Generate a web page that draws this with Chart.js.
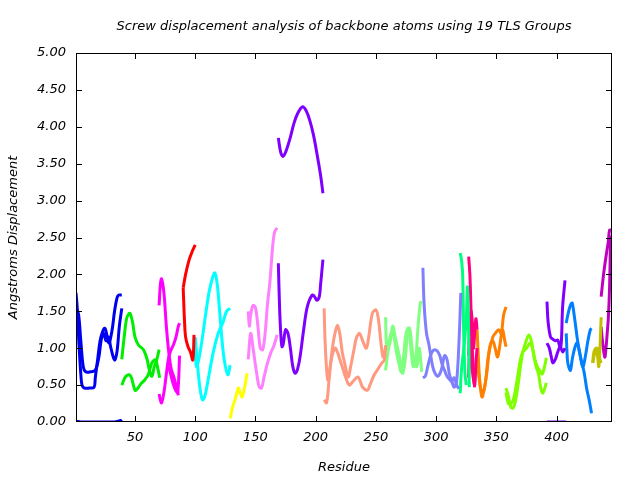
<!DOCTYPE html>
<html lang="en">
<head>
    <meta charset="UTF-8">
    <title>TLS screw displacement</title>
    <style>
        body { margin: 0; background: #fff; }
        #wrap { width: 640px; height: 480px; }
    </style>
</head>
<body>
    <div id="wrap"><canvas id="myChart"></canvas></div>

    <script src="https://cdn.jsdelivr.net/npm/chart.js"></script>
    <script>
        // one colour per TLS group
        const groupColors = ['#0000f0', '#00ee00', '#ff00ff', '#ff0000', '#00ffff', '#ffff00', '#ff80ff',
            '#8000ff', '#ff9980', '#80ff80', '#8080ff', '#00ff80', '#ff0080', '#ff8000', '#80ff00',
            '#8000ff', '#0080ff', '#c0c000', '#c000c0'];

        const xTicks = [50, 100, 150, 200, 250, 300, 350, 400];
        const chartTitle = 'Screw displacement analysis of backbone atoms using 19 TLS Groups';

        // [residue, displacement] per curve, 2-3 curves per group
        const g01 = [
            [[1, 1.75], [2, 1.55], [3, 1.2], [4, 0.9], [5, 0.65], [6, 0.5], [8, 0.46], [12, 0.46], [16, 0.47], [17, 0.6], [19, 0.85], [21, 1.1], [23, 1.22], [25, 1.27], [27, 1.15], [28.5, 1.07], [31, 1.25], [33, 1.5], [35, 1.68], [36.5, 1.72], [39, 1.72]],
            [[1, 1.54], [3, 1.47], [5, 1.1], [7, 0.75], [9, 0.68], [13, 0.68], [17, 0.7], [20, 0.88], [22, 1.12], [24, 1.2], [26, 1.1], [28, 1.15], [30, 1.0], [33, 0.84], [35, 0.95], [37, 1.3], [39, 1.54]],
            [[1, 0.01], [5, 0.0], [15, 0.0], [25, 0.0], [33, 0.0], [36, 0.01], [38, 0.02], [39, 0.0]]
        ];
        const g02 = [
            [[39, 0.85], [41, 1.15], [43, 1.4], [45, 1.47], [46, 1.47], [48, 1.35], [50, 1.15], [53, 1.04], [57, 0.98], [60, 0.85], [62, 0.7], [64, 0.62], [66, 0.75], [68, 0.84], [70, 0.98]],
            [[39, 0.5], [42, 0.61], [45, 0.64], [47, 0.6], [50, 0.43], [52, 0.45], [55, 0.52], [58, 0.57], [61, 0.64], [64, 0.8], [67, 0.84], [69, 0.72], [70.5, 0.6]]
        ];
        const g03 = [
            [[70, 1.58], [71, 1.85], [72, 1.94], [74, 1.75], [76, 1.3], [78, 0.95], [80, 0.72], [82, 0.62], [84, 0.5], [86, 0.36]],
            [[70, 0.38], [71, 0.3], [72, 0.26], [74, 0.4], [76, 0.65], [78, 0.88], [80, 0.98], [82, 1.05], [84, 1.15], [86, 1.3], [87, 1.34]],
            [[78, 0.75], [80, 0.62], [82, 0.5], [84, 0.42], [85.5, 0.4], [87, 0.9]]
        ];
        const g04 = [
            [[90, 1.82], [92, 2.0], [95, 2.2], [98, 2.33], [100, 2.4]],
            [[90, 1.82], [91, 1.4], [92, 1.15], [94, 1.02], [96, 0.95], [98, 0.84], [99, 1.18]]
        ];
        const g05 = [
            [[100, 1.15], [102, 0.75], [104, 0.45], [106, 0.3], [108, 0.35], [111, 0.6], [115, 0.95], [119, 1.2], [123, 1.35], [126, 1.5], [129, 1.54]],
            [[100, 1.0], [101, 0.75], [103, 0.85], [106, 1.15], [109, 1.5], [112, 1.8], [116, 2.02], [118, 1.9], [120, 1.55], [122, 1.15], [124, 0.85], [127, 0.64], [129, 0.77]]
        ];
        const g06 = [
            [[129, 0.05], [131, 0.2], [133, 0.3], [135, 0.42], [136, 0.46], [138, 0.36], [139, 0.34], [141, 0.47], [143, 0.66]]
        ];
        const g07 = [
            [[144, 1.5], [145, 1.3], [146, 1.45], [148, 1.58], [150, 1.55], [152, 1.3], [154, 1.0], [156, 0.98], [158, 1.2], [160, 1.6], [162, 1.9], [164.5, 2.42], [166, 2.58], [168, 2.63]],
            [[144, 0.85], [146, 1.2], [148, 1.0], [151, 0.66], [153, 0.48], [155, 0.46], [157, 0.6], [160, 0.8], [163, 0.95], [165, 1.02], [168, 1.18]]
        ];
        const g08 = [
            [[169, 3.85], [171, 3.65], [173, 3.6], [176, 3.7], [179, 3.86], [182, 4.05], [185, 4.18], [189, 4.27], [192, 4.22], [195, 4.09], [198, 3.9], [201, 3.64], [204, 3.35], [206, 3.1]],
            [[169, 2.15], [170, 1.56], [171, 1.2], [172, 1.02], [173, 1.05], [175, 1.25], [177, 1.2], [179, 1.0], [181, 0.75], [183, 0.66], [185, 0.72], [187, 0.88], [190, 1.25], [193, 1.56], [197, 1.72], [199, 1.7], [201, 1.65], [203, 1.7], [204, 1.85], [206, 2.2]]
        ];
        const g09 = [
            [[207, 1.54], [208, 1.02], [210, 0.57], [212, 0.75], [214, 1.02], [216, 1.2], [218, 1.31], [220, 1.2], [222, 0.95], [224, 0.8], [227, 0.61], [229, 0.75], [232, 1.0], [234, 1.15], [236.5, 1.2], [239, 1.1], [242, 1.0], [244, 1.15], [247, 1.47], [250, 1.52], [252, 1.4], [254, 1.1], [256, 0.88], [258, 1.0]],
            [[207, 0.3], [209, 0.26], [211, 0.55], [213, 0.85], [216, 1.0], [218, 0.95], [220, 0.85], [222, 0.75], [225, 0.6], [228, 0.5], [231, 0.55], [235, 0.61], [237, 0.55], [239, 0.47], [243, 0.43], [245, 0.5], [248, 0.62], [251, 0.7], [255, 0.8], [257, 0.84], [258, 1.04]]
        ];
        const g10 = [
            [[258, 1.42], [259, 1.0], [261, 1.1], [263, 1.22], [265, 1.15], [267, 0.95], [269, 0.8], [271, 0.68], [273, 0.9], [275, 1.2], [277, 1.27], [279, 1.0], [281, 0.75], [283, 0.85], [285, 1.3], [287, 1.62], [288, 1.6]],
            [[258, 0.7], [260, 0.95], [262, 1.1], [264, 1.3], [266, 1.15], [268, 1.0], [270, 0.85], [272, 0.66], [274, 0.8], [276, 1.15], [278, 1.27], [280, 1.0], [282, 0.8], [284, 0.75], [286, 1.0], [288, 0.68]]
        ];
        const g11 = [
            [[289, 2.09], [290, 1.6], [292, 1.2], [294, 1.05], [296, 0.85], [298, 0.7], [301, 0.62], [303, 0.65], [305, 0.75], [307, 0.9], [309, 0.85], [311, 0.65], [313, 0.55], [315, 0.47], [317, 0.55], [319, 1.1], [320.5, 1.75]],
            [[289, 0.6], [291, 0.62], [293, 0.75], [295, 0.88], [297, 0.96], [299, 0.98], [301, 0.96], [303, 0.9], [305, 0.78], [307, 0.7], [309, 0.62], [311, 0.58], [313, 0.55], [315, 0.6], [317, 0.5], [319, 0.45]]
        ];
        const g12 = [
            [[320, 2.29], [321, 2.2], [322, 2.0], [323, 1.1], [324, 0.65], [325, 0.5]],
            [[320, 0.39], [321, 0.7], [323, 1.0], [325, 1.4], [326, 1.83], [327, 1.2], [327.5, 0.47]]
        ];
        const g13 = [
            [[327, 2.24], [328, 2.0], [329, 1.5], [330, 1.0], [331, 0.66], [332, 0.47]],
            [[327, 0.9], [328, 1.3], [329, 1.5], [330, 1.35], [331, 1.0], [332, 1.2], [333, 1.4], [334, 1.25]],
            [[327, 0.6], [328, 1.1], [329, 0.9], [330, 0.7], [332, 0.5], [333, 0.8], [334, 1.0]]
        ];
        const g14 = [
            [[334, 1.25], [335, 0.9], [336, 0.6], [338, 0.34], [340, 0.45], [342, 0.66], [344, 0.95], [347, 1.15], [349, 1.2], [352, 1.25], [354, 1.2], [356, 1.45], [358, 1.56]],
            [[334, 1.0], [335, 0.7], [337, 0.45], [339, 0.4], [341, 0.55], [343, 0.85], [345, 1.05], [347, 1.1], [349, 1.0], [351, 0.88], [353, 1.05], [355, 1.25], [357, 1.1], [358, 1.02]]
        ];
        const g15 = [
            [[358, 0.46], [360, 0.35], [362, 0.2], [364, 0.19], [366, 0.3], [368, 0.5], [370, 0.75], [372, 0.95], [375, 1.11], [377, 1.18], [379, 1.1], [381, 0.9], [383, 0.75], [385, 0.65], [387, 0.45], [388.5, 0.39], [390, 0.45], [391.5, 0.53]],
            [[358, 0.4], [360, 0.25], [362, 0.25], [364, 0.3], [366, 0.45], [368, 0.65], [370, 0.85], [372, 0.95], [375, 1.0], [378, 1.07], [380, 1.0], [382, 0.85], [384, 0.75], [386, 0.7], [388, 0.65], [390, 0.75], [391.5, 0.87]]
        ];
        const g16 = [
            [[392, 1.63], [393, 1.35], [395, 1.15], [397, 1.12], [399, 1.1], [401, 1.11], [403, 1.0], [404, 1.1], [405, 1.56], [407, 1.92]],
            [[392, 1.07], [394, 1.0], [396, 0.85], [397, 0.8], [399, 0.85], [401, 0.95], [403, 1.02], [405, 0.95], [407, 1.0]],
            [[392, 0.0], [400, 0.0], [408, 0.0]]
        ];
        const g17 = [
            [[408, 1.34], [410, 1.5], [412, 1.6], [413, 1.61], [415, 1.4], [417, 1.15], [419, 0.95], [421, 0.8], [423, 0.66], [425, 0.45], [427, 0.3], [429, 0.12]],
            [[408, 1.2], [409, 0.84], [410, 0.75], [411.5, 0.7], [413, 0.85], [415, 1.0], [417, 1.07], [419, 0.95], [421, 0.78], [422, 0.75], [424, 0.9], [426, 1.1], [428, 1.25], [429, 1.27]]
        ];
        const g18 = [
            [[430, 0.8], [431, 0.95], [433, 1.0], [434, 0.9], [435, 0.75], [436, 1.0], [437, 1.42]],
            [[430, 0.8], [432, 0.95], [434, 1.0], [435, 0.95], [436, 0.85], [437, 0.8]]
        ];
        const g19 = [
            [[437, 1.7], [439, 2.0], [441, 2.24], [443, 2.45], [444, 2.6], [445.5, 2.6]],
            [[437, 1.29], [438, 1.11], [440, 0.88], [441, 1.0], [442, 1.2], [443, 1.42], [444, 1.83], [445, 2.5], [446, 2.29]]
        ];

        const groups = [g01, g02, g03, g04, g05, g06, g07, g08, g09, g10, g11, g12, g13, g14, g15, g16, g17, g18, g19];

        let datasets = [];
        groups.forEach(function (g, i) {
            g.forEach(function (curve) {
                datasets.push({
                    data: curve.map(p => ({ x: p[0], y: p[1] })),
                    borderColor: groupColors[i],
                    borderWidth: 3,
                    pointRadius: 0,
                    tension: 0.35,
                    fill: false
                });
            });
        });

        const FONT = "'DejaVu Sans', sans-serif";

        // gnuplot style frame with inward ticks, title centred on the plot
        const framePlugin = {
            id: 'frame',
            afterDraw(chart) {
                const c = chart.ctx;
                const a = chart.chartArea;
                const xs = chart.scales.x, ys = chart.scales.y;
                c.save();
                c.strokeStyle = '#000';
                c.lineWidth = 1;
                c.strokeRect(a.left + 0.5, a.top + 0.5, a.right - a.left - 1, a.bottom - a.top - 1);
                c.beginPath();
                xTicks.forEach(function (v) {
                    let px = Math.round(xs.getPixelForValue(v)) + 0.5;
                    c.moveTo(px, a.bottom); c.lineTo(px, a.bottom - 6);
                    c.moveTo(px, a.top); c.lineTo(px, a.top + 6);
                });
                for (let v = 0.5; v < 5; v += 0.5) {
                    let py = Math.round(ys.getPixelForValue(v)) + 0.5;
                    c.moveTo(a.left, py); c.lineTo(a.left + 6, py);
                    c.moveTo(a.right, py); c.lineTo(a.right - 6, py);
                }
                c.stroke();

                c.fillStyle = '#000';
                c.font = 'italic 13px ' + FONT;
                c.textAlign = 'center';
                c.textBaseline = 'middle';
                c.fillText(chartTitle, (a.left + a.right) / 2, 27);
                c.restore();
            }
        };

        const ctx = document.getElementById('myChart');

        let config = {
            type: 'line',
            data: { datasets: datasets },
            options: {
                responsive: false,
                animation: false,
                layout: { padding: { left: 0, right: 28, top: 53, bottom: 0 } },
                plugins: {
                    legend: { display: false },
                    tooltip: { enabled: false },
                    title: { display: false }
                },
                scales: {
                    x: {
                        type: 'linear',
                        min: 1,
                        max: 446,
                        grid: { display: false },
                        border: { display: false },
                        afterBuildTicks: function (s) { s.ticks = xTicks.map(v => ({ value: v })); },
                        afterFit: function (s) { s.height = 58; },
                        ticks: {
                            color: '#000',
                            padding: 0,
                            maxRotation: 0,
                            font: { family: FONT, size: 13, style: 'italic' }
                        },
                        title: {
                            display: true,
                            text: 'Residue',
                            color: '#000',
                            font: { family: FONT, size: 13, style: 'italic' },
                            padding: { top: 0, bottom: 5 }
                        }
                    },
                    y: {
                        min: 0,
                        max: 5,
                        grid: { display: false },
                        border: { display: false },
                        afterFit: function (s) { s.width = 76; },
                        ticks: {
                            stepSize: 0.5,
                            color: '#000',
                            padding: 2,
                            font: { family: FONT, size: 13, style: 'italic' },
                            callback: function (v) { return v.toFixed(2); }
                        },
                        title: {
                            display: true,
                            text: 'Angstroms Displacement',
                            color: '#000',
                            font: { family: FONT, size: 13, style: 'italic' },
                            padding: { top: 6, bottom: 0 }
                        }
                    }
                }
            },
            plugins: [framePlugin]
        };

        document.getElementById('myChart').width = 640;
        document.getElementById('myChart').height = 480;
        let myChart = new Chart(ctx, config);
    </script>
</body>
</html>
